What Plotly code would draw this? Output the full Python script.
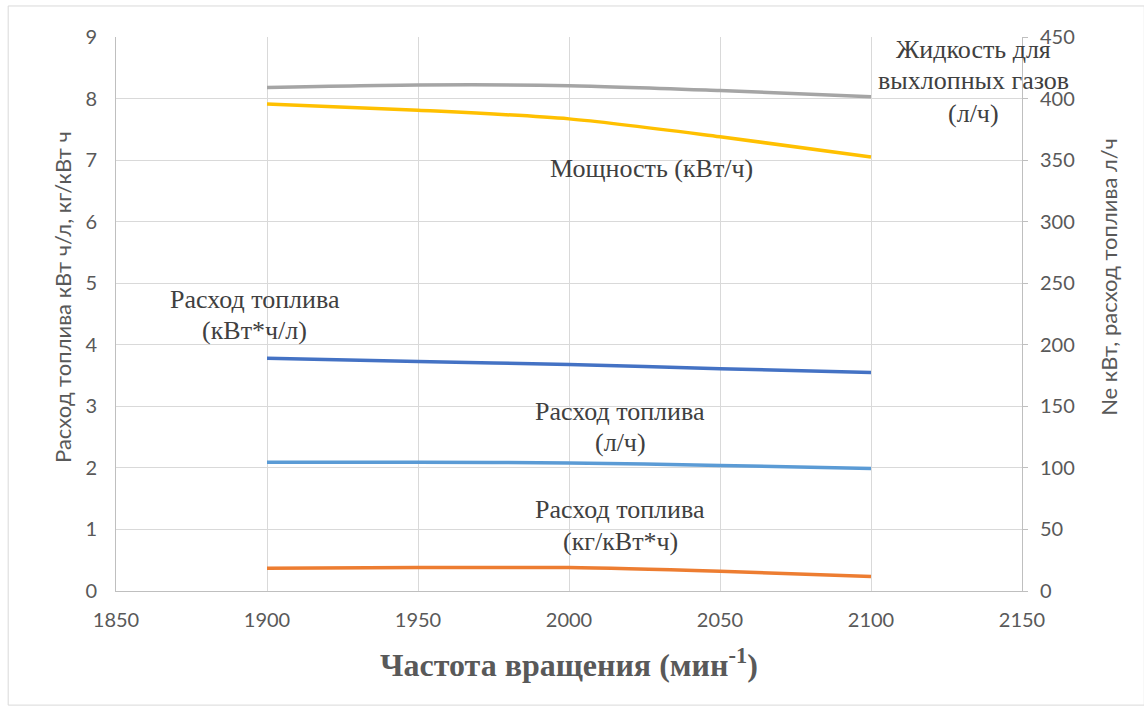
import plotly.graph_objects as go

# Engine speed, min^-1
rpm = [1900, 1950, 2000, 2050, 2100]

# Right-axis series
exhaust_fluid_lph = [409, 411, 410.5, 406.5, 401.5]     # Жидкость для выхлопных газов (л/ч)
power_kw = [395.5, 390.5, 383.5, 369, 352.5]           # Мощность (кВт/ч)
fuel_lph = [104.5, 104.5, 104, 102, 99.5]              # Расход топлива (л/ч)

# Left-axis series
fuel_kwh_per_l = [3.78, 3.73, 3.68, 3.61, 3.55]        # Расход топлива (кВт*ч/л)
fuel_kg_per_kwh = [0.37, 0.38, 0.38, 0.32, 0.235]      # Расход топлива (кг/кВт*ч)

x_ticks = [1850, 1900, 1950, 2000, 2050, 2100, 2150]
left_ticks = list(range(0, 10))
right_ticks = list(range(0, 451, 50))

fig = go.Figure()

def add_line(y, color, axis):
    fig.add_trace(go.Scatter(
        x=rpm, y=y, mode="lines", yaxis=axis,
        line=dict(color=color, width=3.5, shape="spline", smoothing=0.8),
        showlegend=False, hoverinfo="skip",
    ))

add_line(exhaust_fluid_lph, "#A5A5A5", "y2")
add_line(power_kw, "#FFC000", "y2")
add_line(fuel_kwh_per_l, "#4472C4", "y")
add_line(fuel_lph, "#5B9BD5", "y2")
add_line(fuel_kg_per_kwh, "#ED7D31", "y")

sans = "Lato, 'Open Sans', sans-serif"
serif = "'Liberation Serif', 'DejaVu Serif', serif"
tick_font = dict(family=sans, size=20, color="#595959")
label_font = dict(family=serif, size=26, color="#404040")
title_font = dict(family=sans, size=22, color="#595959")

# Series labels, one line per entry (x in rpm, y in left-axis units)
label_lines = [
    (2133.8, 8.79, "Жидкость для"),
    (2133.8, 8.30, "выхлопных газов"),
    (2133.8, 7.76, "(л/ч)"),
    (2027.2, 6.87, "Мощность (кВт/ч)"),
    (1896.0, 4.73, "Расход топлива"),
    (1896.0, 4.24, "(кВт*ч/л)"),
    (2016.9, 2.91, "Расход топлива"),
    (2016.9, 2.42, "(л/ч)"),
    (2016.9, 1.32, "Расход топлива"),
    (2016.9, 0.81, "(кг/кВт*ч)"),
]
annotations = [
    dict(x=x, y=y, xref="x", yref="y", text=t, showarrow=False,
         font=label_font, xanchor="center", yanchor="middle")
    for x, y, t in label_lines
]

# Axis titles
annotations += [
    dict(x=-0.059, y=0.53, xref="paper", yref="paper", textangle=-90,
         text="Расход топлива кВт ч/л, кг/кВт ч", showarrow=False,
         font=title_font, xanchor="center", yanchor="middle"),
    dict(x=1.096, y=0.567, xref="paper", yref="paper", textangle=-90,
         text="Ne кВт, расход топлива л/ч", showarrow=False,
         font=title_font, xanchor="center", yanchor="middle"),
    dict(x=0.5, y=-0.13, xref="paper", yref="paper",
         text="<b>Частота вращения (мин<sup>-1</sup>)</b>", showarrow=False,
         font=dict(family=serif, size=32, color="#595959"),
         xanchor="center", yanchor="middle"),
]

fig.update_layout(
    width=1144, height=709,
    margin=dict(l=116, r=122, t=37, b=118),
    paper_bgcolor="white", plot_bgcolor="white",
    xaxis=dict(
        range=[1850, 2150], tickvals=x_ticks, ticktext=[str(v) for v in x_ticks],
        showgrid=True, gridcolor="#D9D9D9", gridwidth=1,
        showline=True, linecolor="#BFBFBF", linewidth=1, zeroline=False,
        tickfont=tick_font, ticks="", ticklabelstandoff=11,
    ),
    yaxis=dict(
        range=[0, 9], tickvals=left_ticks,
        showgrid=True, gridcolor="#D9D9D9", gridwidth=1,
        showline=True, linecolor="#BFBFBF", linewidth=1, zeroline=False,
        tickfont=tick_font, ticks="", ticklabelstandoff=14,
    ),
    yaxis2=dict(
        range=[0, 450], tickvals=right_ticks, overlaying="y", side="right",
        showgrid=False, showline=True, linecolor="#BFBFBF", linewidth=1, zeroline=False,
        ticks="outside", ticklen=5, tickcolor="#BFBFBF",
        tickfont=tick_font, ticklabelstandoff=8,
    ),
    annotations=annotations,
    shapes=[dict(type="rect", xref="paper", yref="paper",
                 x0=-0.119, x1=1.135, y0=-0.206, y1=1.056,
                 line=dict(color="#D9D9D9", width=1), fillcolor="rgba(0,0,0,0)", layer="below")],
)

fig.write_html("out.html")
